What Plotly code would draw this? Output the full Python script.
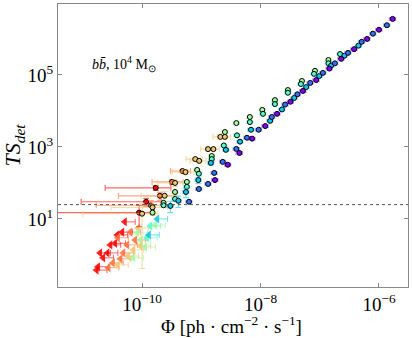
import plotly.graph_objects as go

# detected points (circles): flux Phi and TS_det, one pair of lists per colour
violet_phi = [1.7e-6, 1.0e-6, 6.3e-7, 3.8e-7, 2.3e-7, 1.45e-7, 8.7e-8, 5.2e-8, 3.2e-8, 1.9e-8, 1.2e-8, 7.2e-9, 4.4e-9, 2.8e-9, 1.7e-9]
violet_ts = [3.6e6, 1.8e6, 1.0e6, 5.2e5, 2.8e5, 1.5e5, 7.2e4, 3.6e4, 1.8e4, 8.3e3, 3.8e3, 1.7e3, 680, 320, 120]

blue_phi = [1.36e-6, 7.9e-7, 5.1e-7, 3.0e-7, 1.8e-7, 1.13e-7, 6.9e-8, 4.2e-8, 2.6e-8, 1.55e-8, 9.3e-9, 5.9e-9, 3.9e-9, 2.3e-9, 1.65e-9, 1.3e-9, 9.1e-10, 6.2e-10]
blue_ts = [2.4e6, 1.4e6, 8.3e5, 4.1e5, 2.1e5, 1.14e5, 6.0e4, 2.9e4, 1.5e4, 6.8e3, 3.0e3, 1.8e3, 880, 385, 190, 94, 68, 30]

cyan_phi = [4.5e-7, 2.6e-7, 1.55e-7, 9.8e-8, 5.9e-8, 3.7e-8, 2.3e-8, 1.45e-8, 6.9e-9, 4.5e-9, 2.6e-9, 1.45e-9, 8.9e-10, 5.5e-10, 4.1e-10, 3.0e-10]
cyan_ts = [6.5e5, 3.4e5, 1.8e5, 9.3e4, 4.6e4, 2.3e4, 1.1e4, 5.3e3, 3.0e3, 1.4e3, 830, 360, 120, 56, 32, 23]
cyan_dts_lo = [5, 5, 5, 5, 5, 5, 5, 5, 6, 8, 10, 12, 20, 30, 35, 35]

aqua_phi = [2.2e-7, 1.4e-7, 8.0e-8, 4.8e-8, 2.9e-8, 1.75e-8, 1.1e-8, 6.6e-9, 4.0e-9, 2.4e-9, 1.5e-9, 9.1e-10, 5.7e-10, 3.6e-10, 2.3e-10]
aqua_ts = [3.8e5, 2.1e5, 1.07e5, 5.6e4, 3.2e4, 1.55e4, 8.3e3, 4.9e3, 2.1e3, 1.1e3, 460, 180, 78, 36, 24]

green_phi = [1.4e-7, 8.3e-8, 5.0e-8, 2.9e-8, 1.75e-8, 1.07e-8, 6.6e-9, 3.9e-9, 2.5e-9, 1.5e-9, 8.5e-10, 5.7e-10, 3.6e-10, 2.3e-10, 1.5e-10]
green_ts = [2.6e5, 1.3e5, 6.8e4, 3.8e4, 2.0e4, 1.07e4, 6.8e3, 4.6e3, 2.6e3, 560, 230, 107, 56, 28, 15]

orange_phi = [2.1e-9, 2.5e-9, 1.3e-9, 1.6e-9, 7.9e-10, 9.2e-10, 5.4e-10, 3.6e-10, 2.4e-10, 1.5e-10, 1.0e-10]
orange_ts = [1.9e3, 1.9e3, 870, 870, 460, 410, 200, 100, 44, 21, 14]
orange_dphi_lo = [25, 25, 25, 25, 30, 30, 40, 50, 60, 80, 90]
orange_dts_lo = [8, 8, 8, 8, 10, 10, 15, 20, 30, 40, 97]

redorange_phi = [4.8e-10, 3.2e-10, 2.0e-10, 1.4e-10]
redorange_ts = [215, 107, 44, 24]
redorange_dphi_lo = [37, 54, 80, 88]
redorange_dts_lo = [10, 15, 25, 35]

red_phi = [1.7e-10, 1.17e-10, 8.9e-11]
red_ts = [73, 30, 15]
red_dphi_lo = [86, 92, 97.5]
red_dts_lo = [15, 25, 59]

# upper limits (left triangles)
cyan_ul_phi = [1.3e-10, 1.8e-10]
cyan_ul_ts = [3.6, 10]
aqua_ul_phi = [1.37e-10, 1.2e-10]
aqua_ul_ts = [6.4, 3.0]
green_ul_phi = [8.3e-11, 9.3e-11, 1.12e-10, 1.66e-10, 7.1e-11]
green_ul_ts = [4.1, 2.6, 1.66, 6.8, 0.83]
orange_ul_phi = [8.5e-11, 7.1e-11, 5.8e-11, 9.3e-11, 3.9e-11]
orange_ul_ts = [5.6, 1.38, 0.93, 1.78, 0.53]
redorange_ul_phi = [6.3e-11, 5.6e-11, 4.8e-11, 4.3e-11, 3.2e-11, 2.7e-11, 3.9e-11, 7.6e-11]
redorange_ul_ts = [4.3, 1.9, 1.14, 0.78, 0.60, 0.44, 3.0, 2.6]
red_ul_phi = [5.1e-11, 4.6e-11, 3.8e-11, 3.5e-11, 2.9e-11, 2.6e-11, 1.95e-11, 2.2e-11, 1.8e-11, 1.7e-11]
red_ul_ts = [8.3, 4.3, 3.6, 2.1, 1.9, 1.14, 1.14, 0.83, 0.47, 0.38]

TS_THRESHOLD = 25

x_ticks = [1e-10, 1e-8, 1e-6]
x_ticktext = ["10<sup>−10</sup>", "10<sup>−8</sup>", "10<sup>−6</sup>"]
y_ticks = [10, 1e3, 1e5]
y_ticktext = ["10<sup>1</sup>", "10<sup>3</sup>", "10<sup>5</sup>"]

colours = {
    "violet": (128, 0, 255),
    "blue": (55, 111, 249),
    "cyan": (18, 199, 230),
    "aqua": (91, 249, 199),
    "green": (164, 249, 159),
    "orange": (237, 199, 111),
    "redorange": (255, 111, 57),
    "red": (255, 0, 0),
}


def rgba(c, a):
    return "rgba(%d,%d,%d,%s)" % (c[0], c[1], c[2], a)


def add_limits(fig, phi, ts, col):
    fig.add_trace(go.Scatter(
        x=phi, y=ts, mode="markers",
        marker=dict(symbol="triangle-left", size=8, color=rgba(col, 0.85), line=dict(width=0)),
        error_x=dict(type="percent", symmetric=False, value=50, valueminus=0,
                     color=rgba(col, 0.6), thickness=1, width=3),
        showlegend=False, hoverinfo="x+y"))


def add_points(fig, phi, ts, col, dphi_lo=None, dts_lo=None):
    if dphi_lo is None:
        ex = dict(type="percent", value=12, color=rgba(col, 0.45), thickness=1.2, width=2)
    else:
        ex = dict(type="data", symmetric=False,
                  array=[p * min(d, 80) / 100 for p, d in zip(phi, dphi_lo)],
                  arrayminus=[p * d / 100 for p, d in zip(phi, dphi_lo)],
                  color=rgba(col, 0.6), thickness=1.2, width=3)
    if dts_lo is None:
        ey = dict(type="percent", value=8, color=rgba(col, 0.45), thickness=1.2, width=2)
    else:
        ey = dict(type="data", symmetric=False,
                  array=[t * d / 100 for t, d in zip(ts, dts_lo)],
                  arrayminus=[t * d / 100 for t, d in zip(ts, dts_lo)],
                  color=rgba(col, 0.6), thickness=1.2, width=3)
    fig.add_trace(go.Scatter(
        x=phi, y=ts, mode="markers",
        marker=dict(symbol="circle", size=5, color=rgba(col, 1), line=dict(color="black", width=1)),
        error_x=ex, error_y=ey, showlegend=False, hoverinfo="x+y"))


fig = go.Figure()

add_limits(fig, red_ul_phi, red_ul_ts, colours["red"])
add_limits(fig, redorange_ul_phi, redorange_ul_ts, colours["redorange"])
add_limits(fig, orange_ul_phi, orange_ul_ts, colours["orange"])
add_limits(fig, green_ul_phi, green_ul_ts, colours["green"])
add_limits(fig, aqua_ul_phi, aqua_ul_ts, colours["aqua"])
add_limits(fig, cyan_ul_phi, cyan_ul_ts, colours["cyan"])

add_points(fig, red_phi, red_ts, colours["red"], red_dphi_lo, red_dts_lo)
add_points(fig, redorange_phi, redorange_ts, colours["redorange"], redorange_dphi_lo, redorange_dts_lo)
add_points(fig, orange_phi, orange_ts, colours["orange"], orange_dphi_lo, orange_dts_lo)
add_points(fig, green_phi, green_ts, colours["green"])
add_points(fig, aqua_phi, aqua_ts, colours["aqua"])
add_points(fig, cyan_phi, cyan_ts, colours["cyan"], None, cyan_dts_lo)
add_points(fig, blue_phi, blue_ts, colours["blue"])
add_points(fig, violet_phi, violet_ts, colours["violet"])

fig.add_shape(type="line", xref="paper", x0=0, x1=1, yref="y", y0=TS_THRESHOLD, y1=TS_THRESHOLD,
              line=dict(color="#555555", width=1, dash="dot"))

fig.add_annotation(x=0.09, y=0.83, xref="paper", yref="paper", xanchor="left", showarrow=False,
                   text="<i>b</i><i>b̄</i>, 10<sup>4</sup> M<sub>⊙</sub>",
                   font=dict(family="Liberation Serif", size=14, color="black"))

# x axis title as an annotation so it sits as close to the tick labels as in the original
fig.add_annotation(x=0.497, y=-0.133, xref="paper", yref="paper", yanchor="middle", showarrow=False,
                   text="Φ [ph · cm<sup>−2</sup> · s<sup>−1</sup>]",
                   font=dict(family="Liberation Serif", size=19, color="black"))

axis_common = dict(type="log", showgrid=False, zeroline=False, showline=True, linecolor="#888888",
                   linewidth=1, mirror="ticks", ticks="inside", ticklen=4, tickcolor="#888888",
                   automargin=False, tickfont=dict(family="Liberation Serif", size=19, color="black"))

fig.update_xaxes(range=[-11.42, -5.51], tickvals=x_ticks, ticktext=x_ticktext, **axis_common)
fig.update_yaxes(range=[-0.89, 6.97], tickvals=y_ticks, ticktext=y_ticktext,
                 title=dict(text="<i>TS</i><sub><i>det</i></sub>", standoff=2,
                            font=dict(family="Liberation Serif", size=22, color="black")),
                 **axis_common)

fig.update_layout(width=412, height=338, margin=dict(l=58, r=4, t=4, b=51),
                  plot_bgcolor="white", paper_bgcolor="white")

# the page body has a default 8px margin; drop it so the figure sits at the window corner
fig.write_html("out.html", config={"displayModeBar": False},
               post_script="document.body.style.margin='0';")
